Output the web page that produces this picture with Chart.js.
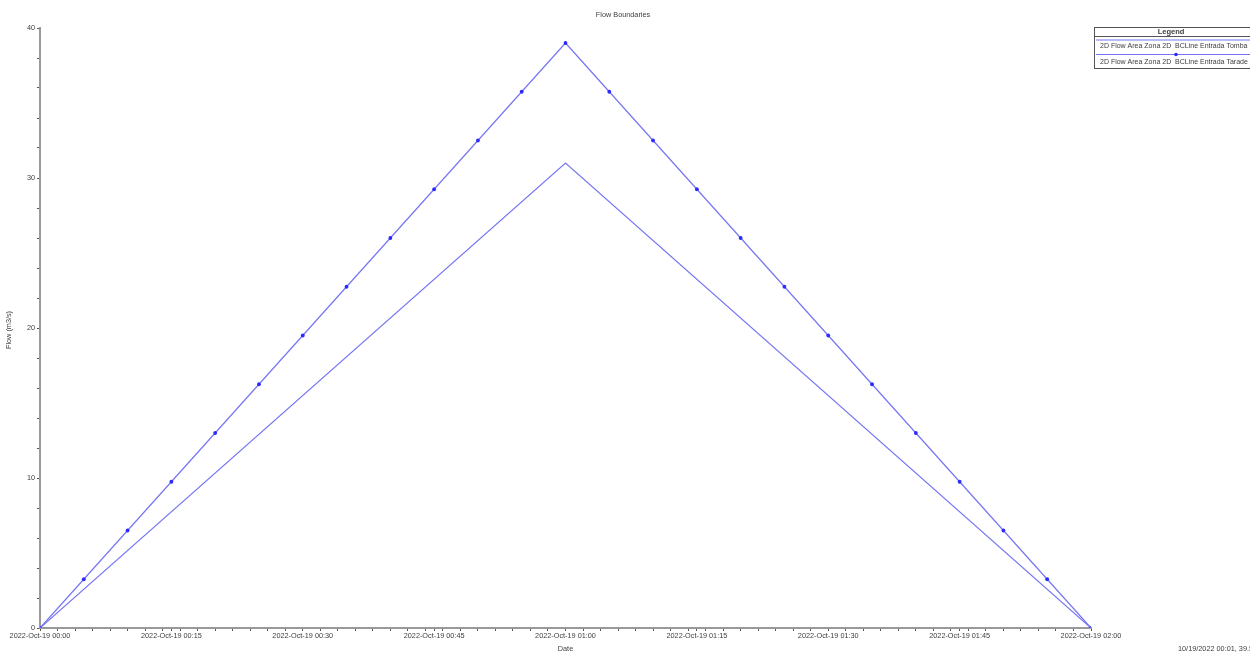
<!DOCTYPE html>
<html>
<head>
<meta charset="utf-8">
<title>Flow Boundaries</title>
<script src="https://cdn.jsdelivr.net/npm/chart.js@4.4.1/dist/chart.umd.min.js"></script>
<style>
  html, body { margin: 0; padding: 0; background: #ffffff; }
  #wrap { width: 1250px; height: 655px; position: relative; }
  canvas { display: block; }
</style>
</head>
<body>
<div id="wrap"><canvas id="chart" width="1250" height="655"></canvas></div>
<script>
// Time since 2022-Oct-19 00:00, in minutes
const tarTimes = [0, 5, 10, 15, 20, 25, 30, 35, 40, 45, 50, 55, 60, 65, 70, 75, 80, 85, 90, 95, 100, 105, 110, 115, 120];
// BCLine Entrada Taradell hydrograph (m3/s), marked every 5 minutes
const tarFlow = [0, 3.25, 6.5, 9.75, 13, 16.25, 19.5, 22.75, 26, 29.25, 32.5, 35.75, 39,
                 35.75, 32.5, 29.25, 26, 22.75, 19.5, 16.25, 13, 9.75, 6.5, 3.25, 0];
// BCLine Entrada Tomba hydrograph (m3/s)
const tombaTimes = [0, 60, 120];
const tombaFlow = [0, 31, 0];

const seriesNames = [
  '2D Flow Area Zona 2D  BCLine Entrada Tomba',
  '2D Flow Area Zona 2D  BCLine Entrada Tarade'
];

// Axis labels
const xTickMinutes = [0, 15, 30, 45, 60, 75, 90, 105, 120];
const xTickLabels = ['2022-Oct-19 00:00', '2022-Oct-19 00:15', '2022-Oct-19 00:30', '2022-Oct-19 00:45',
                     '2022-Oct-19 01:00', '2022-Oct-19 01:15', '2022-Oct-19 01:30', '2022-Oct-19 01:45',
                     '2022-Oct-19 02:00'];
const yTickValues = [0, 10, 20, 30, 40];
const yTickLabels = ['0', '10', '20', '30', '40'];

const chartTitle = 'Flow Boundaries';
const xTitle = 'Date';
const yTitle = 'Flow (m3/s)';
const cursorReadout = '10/19/2022 00:01, 39.5';

const LINE = '#7676f4';
const MARK = '#2a2aff';
const AXIS = '#9a9a9a';
const TEXT = '#404040';
const FONT = '"Liberation Sans", Arial, sans-serif';

function toXY(xs, ys) { return xs.map((x, i) => ({ x: x, y: ys[i] })); }

// Title, axis titles, legend box and cursor readout
const decor = {
  id: 'decor',
  afterDraw(chart) {
    const ctx = chart.ctx;
    const a = chart.chartArea;
    ctx.save();
    ctx.fillStyle = TEXT;
    ctx.textBaseline = 'middle';

    ctx.font = '7.3px ' + FONT;
    ctx.textAlign = 'center';
    ctx.fillText(chartTitle, 623, 15);
    ctx.fillText(xTitle, (a.left + a.right) / 2, 649);

    ctx.save();
    ctx.translate(9, 330);
    ctx.rotate(-Math.PI / 2);
    ctx.fillText(yTitle, 0, 0);
    ctx.restore();

    ctx.textAlign = 'left';
    ctx.fillText(cursorReadout, 1178, 649);

    // legend
    const lx = 1094, ly = 27, lw = 172, lh = 41;
    ctx.strokeStyle = '#555555';
    ctx.lineWidth = 1;
    ctx.strokeRect(lx + 0.5, ly + 0.5, lw, lh);
    ctx.beginPath();
    ctx.moveTo(lx, 36.5); ctx.lineTo(lx + lw, 36.5);
    ctx.stroke();
    ctx.font = 'bold 7.5px ' + FONT;
    ctx.textAlign = 'center';
    ctx.fillText('Legend', 1171, 31.5);

    ctx.strokeStyle = LINE;
    ctx.lineWidth = 1.2;
    ctx.beginPath();
    ctx.moveTo(lx + 2, 40); ctx.lineTo(lx + lw, 40);
    ctx.moveTo(lx + 2, 54.5); ctx.lineTo(lx + lw, 54.5);
    ctx.stroke();
    ctx.fillStyle = MARK;
    ctx.beginPath();
    ctx.arc(1176, 54.5, 1.8, 0, Math.PI * 2);
    ctx.fill();

    ctx.fillStyle = TEXT;
    ctx.font = '7px ' + FONT;
    ctx.textAlign = 'left';
    ctx.fillText(seriesNames[0], 1100, 46.5);
    ctx.fillText(seriesNames[1], 1100, 62.5);
    ctx.restore();
  }
};

new Chart(document.getElementById('chart'), {
  type: 'line',
  data: {
    datasets: [
      {
        label: seriesNames[0],
        data: toXY(tombaTimes, tombaFlow),
        borderColor: LINE,
        borderWidth: 1.2,
        pointRadius: 0,
        tension: 0
      },
      {
        label: seriesNames[1],
        data: toXY(tarTimes, tarFlow),
        borderColor: LINE,
        borderWidth: 1.2,
        pointRadius: 1.9,
        pointBackgroundColor: MARK,
        pointBorderColor: MARK,
        pointBorderWidth: 0,
        tension: 0
      }
    ]
  },
  options: {
    responsive: false,
    animation: false,
    events: [],
    layout: { padding: { top: 28, right: 159, left: 0, bottom: 0 } },
    plugins: {
      legend: { display: false },
      title: { display: false },
      tooltip: { enabled: false }
    },
    scales: {
      x: {
        type: 'linear',
        min: 0,
        max: 120,
        afterBuildTicks(scale) {
          const vals = [];
          for (let m = 0; m <= 120; m += 2) vals.push(m);
          xTickMinutes.forEach(m => { if (!vals.includes(m)) vals.push(m); });
          vals.sort((p, q) => p - q);
          scale.ticks = vals.map(v => ({ value: v }));
        },
        afterFit(scale) { scale.height = 27; },
        ticks: {
          autoSkip: false,
          maxRotation: 0,
          padding: 1,
          color: TEXT,
          font: { family: FONT, size: 7.3 },
          callback(v) {
            const i = xTickMinutes.indexOf(v);
            return i >= 0 ? xTickLabels[i] : '';
          }
        },
        grid: { drawOnChartArea: false, drawTicks: true, tickLength: 3, color: '#555555' },
        border: { color: AXIS, width: 2 }
      },
      y: {
        min: 0,
        max: 40,
        afterBuildTicks(scale) {
          const vals = [];
          for (let v = 0; v <= 40; v += 2) vals.push(v);
          scale.ticks = vals.map(v => ({ value: v }));
        },
        afterFit(scale) { scale.width = 40; },
        ticks: {
          autoSkip: false,
          padding: 2,
          color: TEXT,
          font: { family: FONT, size: 7.3 },
          callback(v) {
            const i = yTickValues.indexOf(v);
            return i >= 0 ? yTickLabels[i] : '';
          }
        },
        grid: { drawOnChartArea: false, drawTicks: true, tickLength: 3, color: '#555555' },
        border: { color: AXIS, width: 2 }
      }
    }
  },
  plugins: [decor]
});
</script>
</body>
</html>
